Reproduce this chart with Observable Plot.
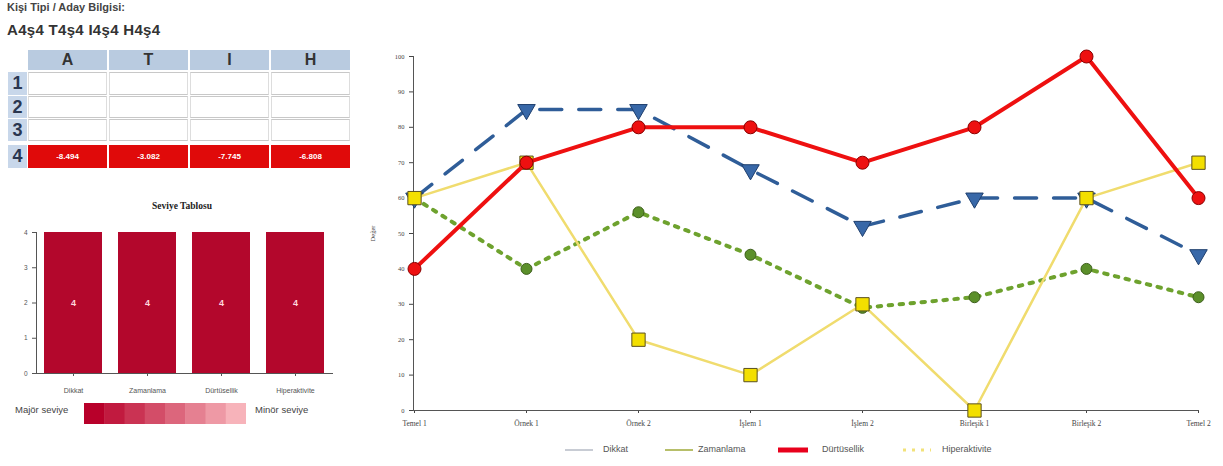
<!DOCTYPE html>
<html>
<head>
<meta charset="utf-8">
<script src="https://cdn.jsdelivr.net/npm/d3@7"></script>
<script src="https://cdn.jsdelivr.net/npm/@observablehq/plot@0.6"></script>
<style>
  html, body { margin: 0; padding: 0; background: #fff; width: 1223px; height: 466px; overflow: hidden; font-family: "Liberation Sans", Arial, sans-serif; }
  .abs { position: absolute; }
  #t1 { left: 7px; top: 1px; font-size: 11px; font-weight: bold; color: #444; }
  #t2 { left: 7px; top: 21px; font-size: 15px; font-weight: bold; color: #333; letter-spacing: 0.3px; }
  .cell { position: absolute; box-sizing: border-box; }
  .hdr { background: #b9cbe0; color: #333; font-weight: bold; font-size: 16px; text-align: center; line-height: 20px; }
  .rowlab { background: #c8d7ea; color: #2a3650; font-weight: bold; font-size: 18px; text-align: center; line-height: 22px; }
  .wcell { background: #fff; border-top: 1px solid #c8c8c8; border-bottom: 1px solid #c8c8c8; border-left: 1px solid #ddd; border-right: 1px solid #ddd; }
  .rcell { background: #e00a0a; color: #fff; font-size: 8px; font-weight: bold; text-align: center; line-height: 23px; }
  #barTitle { left: 0; width: 364px; top: 201px; text-align: center; font-family: "Liberation Serif", serif; font-weight: bold; font-size: 9.5px; color: #222; }
  .lvl { font-size: 9.5px; color: #444; top: 404px; }
  #grad { left: 84px; top: 403px; width: 162px; height: 21px; }
  .legsw { top: 445px; }
  .legtx { top: 444px; font-size: 9px; color: #555; }
</style>
</head>
<body>
<div id="t1" class="abs">Kişi Tipi / Aday Bilgisi:</div>
<div id="t2" class="abs">A4ş4 T4ş4 I4ş4 H4ş4</div>
<div id="table"></div>
<div id="barTitle" class="abs">Seviye Tablosu</div>
<div id="barChart" class="abs" style="left:0;top:215px;"></div>
<div class="abs lvl" style="left:15px;">Majör seviye</div>
<div id="grad" class="abs"></div>
<div class="abs lvl" style="left:255px;">Minör seviye</div>
<div id="lineChart" class="abs" style="left:360px;top:40px;"></div>
<div id="legend"></div>
<script>
// ---------- data ----------
const tableCols = ["A", "T", "I", "H"];
const tableRows = ["1", "2", "3", "4"];
const row4Values = ["-8.494", "-3.082", "-7.745", "-6.808"];

const levelCategories = ["Dikkat", "Zamanlama", "Dürtüsellik", "Hiperaktivite"];
const levelValues = [4, 4, 4, 4];

const stages = ["Temel 1", "Örnek 1", "Örnek 2", "İşlem 1", "İşlem 2", "Birleşik 1", "Birleşik 2", "Temel 2"];
const dikkat = [60, 85, 85, 68, 52, 60, 60, 44];
const zamanlama = [60, 40, 56, 44, 29, 32, 40, 32];
const durtusellik = [40, 70, 80, 80, 70, 80, 100, 60];
const hiperaktivite = [60, 70, 20, 10, 30, 0, 60, 70];
const seriesNames = ["Dikkat", "Zamanlama", "Dürtüsellik", "Hiperaktivite"];
const yTicks = [0, 10, 20, 30, 40, 50, 60, 70, 80, 90, 100];
const levelTicks = [0, 1, 2, 3, 4];

// ---------- table ----------
const tbl = document.getElementById("table");
const colX = [28, 109, 190, 271], colW = 79;
const rowY = [72, 96, 119, 145], rowH = [23, 22, 22, 23];
function addCell(parent, cls, x, y, w, h, txt) {
  const d = document.createElement("div");
  d.className = "cell " + cls;
  d.style.left = x + "px"; d.style.top = y + "px"; d.style.width = w + "px"; d.style.height = h + "px";
  if (txt != null) d.textContent = txt;
  parent.appendChild(d);
  return d;
}
tableCols.forEach((c, i) => addCell(tbl, "hdr", colX[i], 50, colW, 20, c));
tableRows.forEach((r, j) => {
  const lab = addCell(tbl, "rowlab", 8, rowY[j], 19, rowH[j], r);
  lab.style.lineHeight = rowH[j] + "px";
  tableCols.forEach((c, i) => {
    if (j === 3) addCell(tbl, "rcell", colX[i], rowY[j], colW, rowH[j], row4Values[i]);
    else addCell(tbl, "wcell", colX[i], rowY[j], colW, rowH[j], null);
  });
});

// ---------- bar chart ----------
const barData = levelCategories.map((c, i) => ({cat: c, v: levelValues[i]}));
const bar = Plot.plot({
  width: 350, height: 185,
  marginLeft: 36, marginRight: 18, marginTop: 17, marginBottom: 27,
  style: {fontFamily: "Liberation Sans, sans-serif", fontSize: "6.5px", color: "#555", background: "transparent"},
  x: {domain: levelCategories, paddingInner: 0.21, paddingOuter: 0.08, label: null},
  y: {domain: [0, 4], label: null},
  marks: [
    Plot.barY(barData, {x: "cat", y: "v", fill: "#b3072c"}),
    Plot.text(barData, {x: "cat", y: d => d.v / 2, text: d => String(d.v), fill: "#ffd6de", fontSize: 9, fontWeight: "bold"}),
    Plot.axisY({ticks: levelTicks, tickSize: 4, tickFormat: d => d, fontSize: 6.5}),
    Plot.axisX({tickSize: 3, tickPadding: 12, fontSize: 7}),
    Plot.frame({anchor: "left", stroke: "#555"}),
    Plot.frame({anchor: "bottom", stroke: "#555"})
  ]
});
document.getElementById("barChart").appendChild(bar);

// gradient legend
const gradSteps = d3.range(8).map(i => d3.interpolateRgb("#b8002a", "#f7b3ba")(i / 7));
const gsvg = d3.create("svg").attr("width", 162).attr("height", 21);
gradSteps.forEach((c, i) => gsvg.append("rect").attr("x", i * 162 / 8).attr("y", 0).attr("width", 162 / 8 + 0.5).attr("height", 21).attr("fill", c));
document.getElementById("grad").appendChild(gsvg.node());

// ---------- line chart ----------
function mk(vals) { return stages.map((s, i) => ({s, v: vals[i]})); }
const dG = mk(zamanlama), dB = mk(dikkat), dY = mk(hiperaktivite), dR = mk(durtusellik);
const line = Plot.plot({
  width: 860, height: 395,
  marginLeft: 53, marginRight: 22, marginTop: 16, marginBottom: 25,
  style: {fontFamily: "Liberation Serif, serif", fontSize: "7px", color: "#444", background: "transparent", overflow: "visible"},
  x: {type: "point", domain: stages, padding: 0, label: null},
  y: {domain: [0, 100], label: null},
  marks: [
    Plot.axisY({ticks: yTicks, tickSize: 4, fontSize: 6.5, label: "Değer", labelAnchor: "center", labelArrow: "none", labelOffset: 43}),
    Plot.axisX({tickSize: 3, tickPadding: 7, fontSize: 7.5}),
    Plot.frame({anchor: "left", stroke: "#555"}),
    Plot.frame({anchor: "bottom", stroke: "#555"}),
    // green dotted
    Plot.line(dG, {x: "s", y: "v", stroke: "#6ea22e", strokeWidth: 4, strokeDasharray: "3.5,7.5"}),
    Plot.dot(dG, {x: "s", y: "v", r: 5.5, fill: "#5b8f2a", stroke: "#3d5e1b", strokeWidth: 1}),
    // blue dashed
    Plot.line(dB, {x: "s", y: "v", stroke: "#2f5d98", strokeWidth: 3.5, strokeDasharray: "22,17"}),
    Plot.dot(dB, {x: "s", y: "v", symbol: "triangle", rotate: 180, r: 6.5, fill: "#3868a8", stroke: "#1f3f6e", strokeWidth: 1}),
    // yellow solid
    Plot.line(dY, {x: "s", y: "v", stroke: "#f0dc6e", strokeWidth: 2.5}),
    Plot.dot(dY, {x: "s", y: "v", symbol: "square", r: 7.5, fill: "#f3df00", stroke: "#5a5020", strokeWidth: 1}),
    // red thick
    Plot.line(dR, {x: "s", y: "v", stroke: "#ee1010", strokeWidth: 4}),
    Plot.dot(dR, {x: "s", y: "v", r: 6.5, fill: "#ee1010", stroke: "#8a0000", strokeWidth: 1})
  ]
});
document.getElementById("lineChart").appendChild(line);

// legend (absolute slots)
const legendStyles = [
  {stroke: "#c8ccd4", width: 2, dash: null, sx: 565, sw: 28, tx: 603},
  {stroke: "#b7bf6a", width: 2, dash: null, sx: 665, sw: 28, tx: 698},
  {stroke: "#e8001c", width: 5, dash: null, sx: 778, sw: 30, tx: 822},
  {stroke: "#f2e27a", width: 3, dash: "3,6", sx: 903, sw: 28, tx: 942}
];
const leg = document.getElementById("legend");
seriesNames.forEach((n, i) => {
  const st = legendStyles[i];
  const s = d3.create("svg").attr("class", "abs legsw").style("left", st.sx + "px").attr("width", st.sw).attr("height", 10);
  const l = s.append("line").attr("x1", 0).attr("x2", st.sw).attr("y1", 5).attr("y2", 5).attr("stroke", st.stroke).attr("stroke-width", st.width);
  if (st.dash) l.attr("stroke-dasharray", st.dash);
  leg.appendChild(s.node());
  const t = document.createElement("div"); t.className = "abs legtx"; t.style.left = st.tx + "px"; t.textContent = n;
  leg.appendChild(t);
});
</script>
</body>
</html>
